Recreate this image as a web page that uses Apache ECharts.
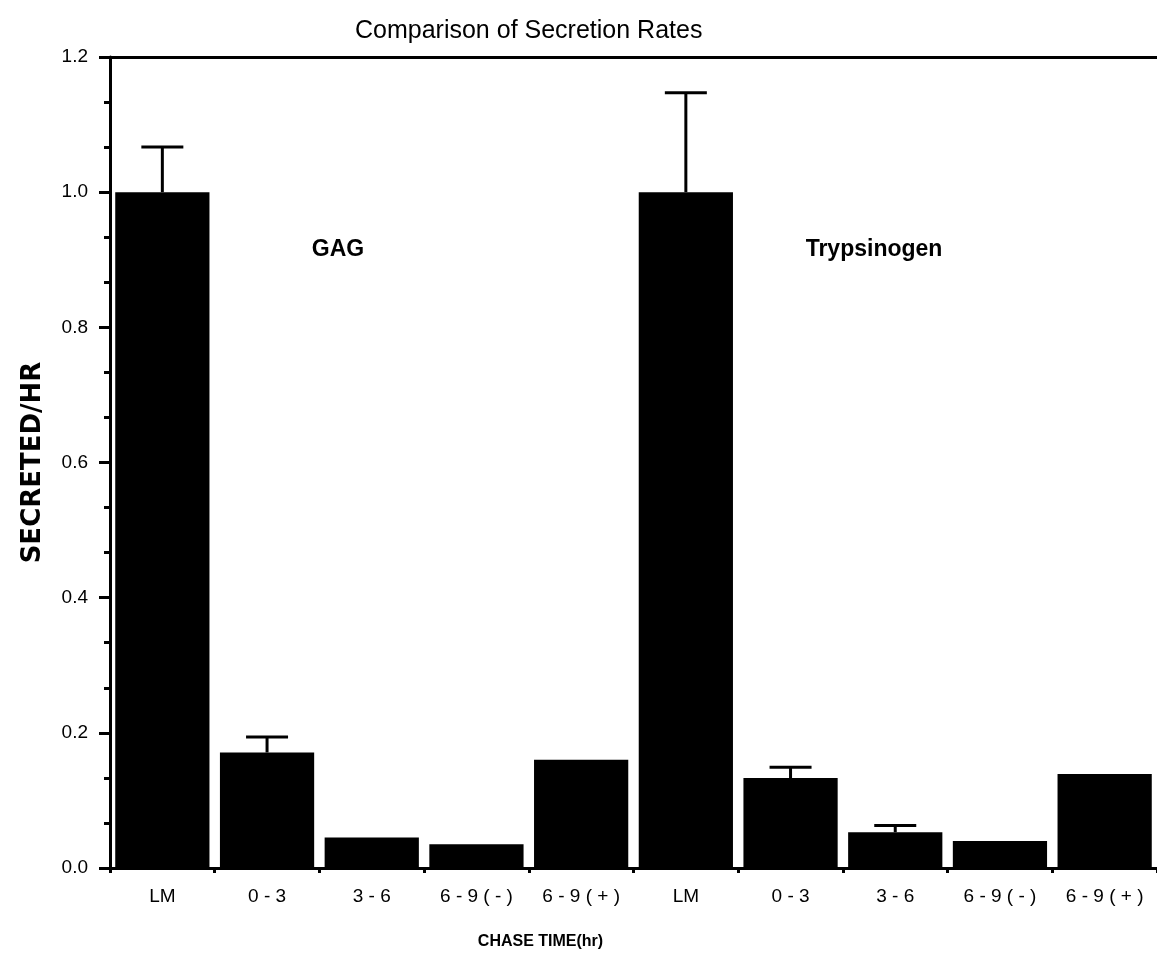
<!DOCTYPE html>
<html>
<head>
<meta charset="utf-8">
<script src="https://cdn.jsdelivr.net/npm/echarts@6/dist/echarts.min.js"></script>
<style>
  html, body { margin: 0; padding: 0; background: #fff; }
  #chart { width: 1157px; height: 962px; }
</style>
</head>
<body>
<div id="chart"></div>
<script>
// Chase-time categories, repeated for each secreted product
const chaseTimes = ['LM', '0 - 3', '3 - 6', '6 - 9 ( - )', '6 - 9 ( + )'];
const groupNames = ['GAG', 'Trypsinogen'];

// Secretion rate per hour (normalised to LM)
const gagValues = [1.0, 0.171, 0.045, 0.035, 0.160];
const trypValues = [1.0, 0.133, 0.053, 0.040, 0.139];

// Upper end of the error bars (null where no bar is drawn)
const gagErrTop = [1.067, 0.194, null, null, null];
const trypErrTop = [1.147, 0.149, 0.063, null, null];

const yTicks = [0.0, 0.2, 0.4, 0.6, 0.8, 1.0, 1.2];

const categories = chaseTimes.concat(chaseTimes);
const values = gagValues.concat(trypValues);
const errTops = gagErrTop.concat(trypErrTop);

const FONT = '"Liberation Sans", Arial, sans-serif';
const INK = '#000';

const chart = echarts.init(document.getElementById('chart'), null, { renderer: 'canvas' });

const errData = [];
errTops.forEach(function (top, i) {
  if (top !== null) errData.push([i, values[i], top]);
});

chart.setOption({
  animation: false,
  backgroundColor: '#fff',
  title: {
    text: 'Comparison of Secretion Rates',
    left: 350,
    top: 14,
    textStyle: { fontFamily: FONT, fontSize: 25, fontWeight: 'normal', color: INK }
  },
  grid: {
    left: 110,
    top: 57,
    width: 1053,
    height: 868 - 57,
    show: false
  },
  xAxis: [
    {
      type: 'category',
      data: categories,
      name: 'CHASE TIME(hr)',
      nameLocation: 'middle',
      nameGap: 66,
      nameTextStyle: {
        fontFamily: FONT, fontSize: 16, fontWeight: 'bold', color: INK,
        padding: [0, 186, 0, 0]
      },
      axisLine: { show: true, lineStyle: { color: INK, width: 3 } },
      axisTick: { show: true, length: 5, lineStyle: { color: INK, width: 3 } },
      axisLabel: {
        margin: 19, fontFamily: FONT, fontSize: 19, color: INK, interval: 0
      },
      splitLine: { show: false }
    },
    {
      // top frame line at 1.2
      type: 'category',
      position: 'top',
      data: categories,
      axisLine: { show: true, lineStyle: { color: INK, width: 3 } },
      axisTick: { show: false },
      axisLabel: { show: false },
      splitLine: { show: false }
    }
  ],
  yAxis: {
    type: 'value',
    min: 0,
    max: 1.2,
    interval: 0.2,
    name: 'SECRETED/HR',
    nameLocation: 'middle',
    nameGap: 64,
    nameTextStyle: { fontFamily: '"DejaVu Sans", sans-serif', fontSize: 26, fontWeight: 'bold', color: INK },
    axisLine: { show: true, lineStyle: { color: INK, width: 3 } },
    axisTick: { show: true, length: 11, lineStyle: { color: INK, width: 3 } },
    minorTick: { show: true, splitNumber: 3, length: 6, lineStyle: { color: INK, width: 3 } },
    axisLabel: {
      margin: 22, fontFamily: FONT, fontSize: 19, color: INK,
      formatter: function (v) {
        const hit = yTicks.find(function (t) { return Math.abs(t - v) < 1e-6; });
        return hit === undefined ? '' : hit.toFixed(1);
      }
    },
    splitLine: { show: false },
    minorSplitLine: { show: false }
  },
  graphic: [
    {
      type: 'text', x: 338, y: 250,
      style: {
        text: groupNames[0], font: 'bold 23px ' + FONT, fill: INK,
        textAlign: 'center', textVerticalAlign: 'middle', align: 'center', verticalAlign: 'middle'
      }
    },
    {
      type: 'text', x: 874, y: 250,
      style: {
        text: groupNames[1], font: 'bold 23px ' + FONT, fill: INK,
        textAlign: 'center', textVerticalAlign: 'middle', align: 'center', verticalAlign: 'middle'
      }
    }
  ],
  series: [
    {
      type: 'bar',
      data: values,
      barWidth: '90%',
      itemStyle: { color: INK },
      z: 2
    },
    {
      type: 'custom',
      data: errData,
      z: 3,
      renderItem: function (params, api) {
        const idx = api.value(0);
        const base = api.coord([idx, api.value(1)]);
        const top = api.coord([idx, api.value(2)]);
        const half = 21;
        const style = { stroke: INK, lineWidth: 3 };
        return {
          type: 'group',
          children: [
            { type: 'line', shape: { x1: base[0], y1: base[1], x2: top[0], y2: top[1] }, style: style },
            { type: 'line', shape: { x1: top[0] - half, y1: top[1], x2: top[0] + half, y2: top[1] }, style: style }
          ]
        };
      }
    }
  ]
});
</script>
</body>
</html>
